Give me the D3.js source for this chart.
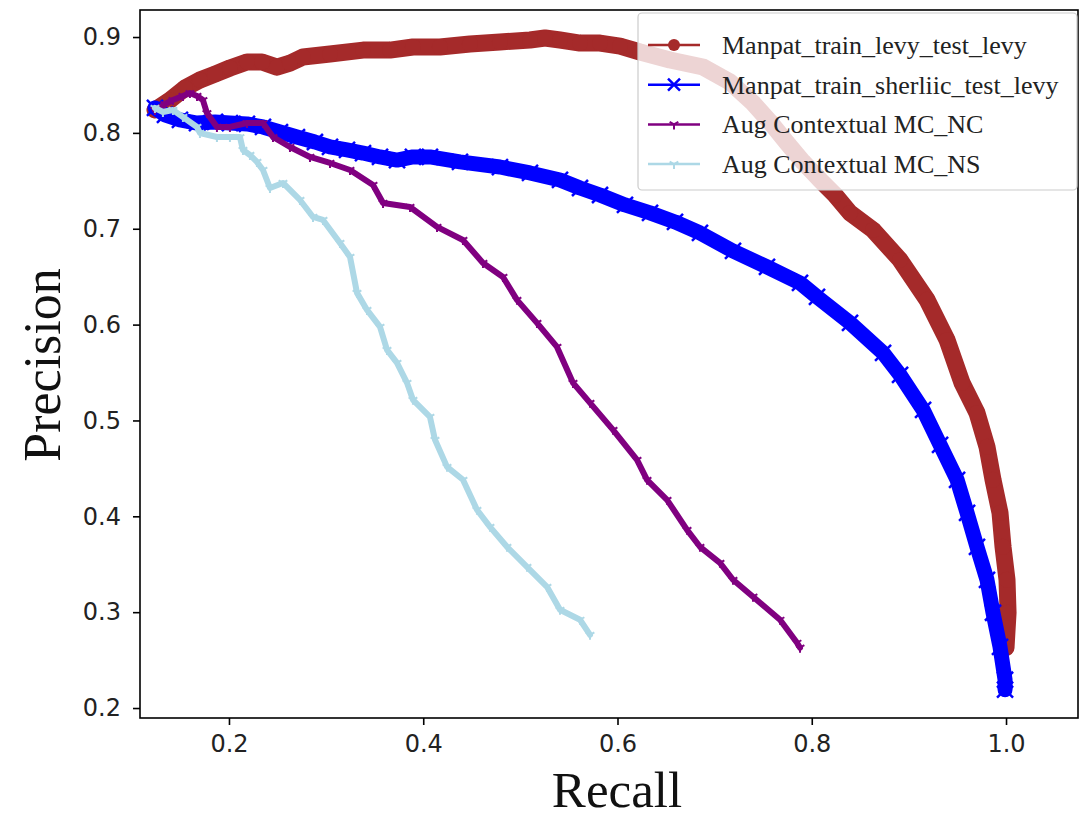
<!DOCTYPE html>
<html><head><meta charset="utf-8">
<script src="https://cdn.jsdelivr.net/npm/d3@7"></script>
<style>body{margin:0;background:#fff}</style>
</head><body>
<svg id="c" width="1081" height="819"></svg>
<script>
const seriesNames = ["Manpat_train_levy_test_levy","Manpat_train_sherliic_test_levy","Aug Contextual MC_NC","Aug Contextual MC_NS"];
const xTicks = [0.2,0.4,0.6,0.8,1.0];
const yTicks = [0.2,0.3,0.4,0.5,0.6,0.7,0.8,0.9];

const levyRecall = [0.1238,0.1393,0.1547,0.1701,0.1856,0.2010,0.2185,0.2340,0.2494,0.2628,0.2762,0.3040,0.3380,0.3658,0.3894,0.4172,0.4481,0.4790,0.5099,0.5254,0.5408,0.5614,0.5820,0.6026,0.6232,0.6540,0.6880,0.7158,0.7395,0.7570,0.7745,0.7910,0.8085,0.8240,0.8394,0.8631,0.8909,0.9187,0.9393,0.9547,0.9701,0.9804,0.9866,0.9938,0.9969,1.0010,1.0021,1.0000];
const levyPrec   = [0.8239,0.8343,0.8468,0.8552,0.8614,0.8677,0.8740,0.8739,0.8686,0.8728,0.8791,0.8823,0.8864,0.8864,0.8896,0.8896,0.8927,0.8948,0.8969,0.8990,0.8969,0.8937,0.8937,0.8906,0.8844,0.8760,0.8687,0.8531,0.8312,0.8114,0.7895,0.7697,0.7509,0.7352,0.7165,0.6987,0.6675,0.6258,0.5840,0.5392,0.5079,0.4725,0.4381,0.4036,0.3682,0.3338,0.2994,0.2629];

const sherRecall = [0.1238,0.1341,0.1495,0.1671,0.1856,0.2010,0.2185,0.2350,0.2525,0.2700,0.2885,0.3040,0.3215,0.3380,0.3555,0.3730,0.3894,0.4069,0.4378,0.4790,0.5099,0.5408,0.5614,0.5820,0.6077,0.6335,0.6592,0.6849,0.7189,0.7539,0.7879,0.8054,0.8394,0.8734,0.8909,0.9146,0.9321,0.9496,0.9599,0.9701,0.9804,0.9866,0.9938,0.9990,0.9990];
const sherPrec   = [0.8260,0.8187,0.8135,0.8103,0.8114,0.8103,0.8093,0.8062,0.8009,0.7957,0.7905,0.7853,0.7822,0.7790,0.7749,0.7717,0.7749,0.7749,0.7697,0.7644,0.7582,0.7509,0.7425,0.7352,0.7248,0.7165,0.7071,0.6956,0.6768,0.6602,0.6435,0.6289,0.6018,0.5705,0.5475,0.5111,0.4746,0.4381,0.4036,0.3682,0.3338,0.2994,0.2639,0.2295,0.2191];

const ncRecall = [0.1238,0.1341,0.1423,0.1526,0.1598,0.1671,0.1732,0.1773,0.1876,0.2010,0.2185,0.2350,0.2453,0.2628,0.2834,0.3040,0.3246,0.3483,0.3586,0.3864,0.4142,0.4409,0.4615,0.4821,0.4965,0.5171,0.5377,0.5542,0.5717,0.5954,0.6201,0.6304,0.6510,0.6716,0.6849,0.7055,0.7189,0.7395,0.7673,0.7848,0.7879];
const ncPrec   = [0.8239,0.8301,0.8343,0.8385,0.8416,0.8385,0.8343,0.8207,0.8062,0.8062,0.8103,0.8103,0.7957,0.7853,0.7749,0.7686,0.7613,0.7457,0.7269,0.7227,0.7019,0.6883,0.6643,0.6497,0.6258,0.6018,0.5767,0.5392,0.5184,0.4902,0.4589,0.4381,0.4172,0.3859,0.3682,0.3515,0.3338,0.3161,0.2921,0.2681,0.2629];

const nsRecall = [0.1238,0.1320,0.1423,0.1526,0.1671,0.1701,0.1876,0.2010,0.2113,0.2144,0.2216,0.2288,0.2350,0.2422,0.2556,0.2731,0.2865,0.2968,0.3143,0.3246,0.3318,0.3421,0.3555,0.3627,0.3730,0.3833,0.3894,0.4069,0.4121,0.4245,0.4409,0.4553,0.4687,0.4862,0.5068,0.5274,0.5408,0.5614,0.5717];
const nsPrec   = [0.8260,0.8218,0.8239,0.8166,0.8062,0.7999,0.7957,0.7957,0.7957,0.7822,0.7770,0.7697,0.7613,0.7425,0.7478,0.7300,0.7123,0.7092,0.6852,0.6706,0.6331,0.6153,0.5976,0.5736,0.5601,0.5392,0.5215,0.5038,0.4798,0.4516,0.4381,0.4068,0.3890,0.3682,0.3473,0.3265,0.3025,0.2921,0.2764];

const colors = ["#a52a2a","#0000ff","#800080","#add8e6"];
const bandW = [17,15,6,6];
const markers = ["circle","x","tri","tri"];

const svg = d3.select("#c");
const L=140,R=1078,T=10,B=718;
const x = d3.scaleLinear().domain([0.1084,1.0741]).range([L,R]);
const y = d3.scaleLinear().domain([0.1896,0.9282]).range([B,T]);

const series = [
  levyRecall.map((r,i)=>[r,levyPrec[i]]),
  sherRecall.map((r,i)=>[r,sherPrec[i]]),
  ncRecall.map((r,i)=>[r,ncPrec[i]]),
  nsRecall.map((r,i)=>[r,nsPrec[i]])
];

function drawMarker(g, type, cx, cy, color, s){
  if(type==="circle"){
    g.append("circle").attr("cx",cx).attr("cy",cy).attr("r",s).attr("fill",color);
  } else if(type==="x"){
    g.append("path").attr("d",`M${cx-s},${cy-s}L${cx+s},${cy+s}M${cx-s},${cy+s}L${cx+s},${cy-s}`)
      .attr("stroke",color).attr("stroke-width",2.5).attr("fill","none");
  } else {
    g.append("path").attr("d",`M${cx},${cy}L${cx},${cy+s}M${cx},${cy}L${cx-s*0.87},${cy-s*0.5}M${cx},${cy}L${cx+s*0.87},${cy-s*0.5}`)
      .attr("stroke",color).attr("stroke-width",2).attr("fill","none");
  }
}

const line = d3.line().x(d=>x(d[0])).y(d=>y(d[1])).curve(d3.curveLinear);
const plot = svg.append("g");
series.forEach((s,i)=>{
  plot.append("path").attr("d",line(s)).attr("fill","none").attr("stroke",colors[i])
    .attr("stroke-width",bandW[i]).attr("stroke-linejoin","round").attr("stroke-linecap","round");
  const mg = plot.append("g");
  const ms = [8,8,5,5][i];
  s.forEach(d=>drawMarker(mg, markers[i], x(d[0]), y(d[1]), colors[i], ms));
});

// spines
svg.append("rect").attr("x",L).attr("y",T).attr("width",R-L).attr("height",B-T)
  .attr("fill","none").attr("stroke","#000").attr("stroke-width",1.6);

// axes
const xa = svg.append("g").attr("transform",`translate(0,${B})`)
  .call(d3.axisBottom(x).tickValues(xTicks).tickFormat(d3.format(".1f")).tickSize(7).tickPadding(10));
const ya = svg.append("g").attr("transform",`translate(${L},0)`)
  .call(d3.axisLeft(y).tickValues(yTicks).tickFormat(d3.format(".1f")).tickSize(7).tickPadding(12));
[xa,ya].forEach(a=>{
  a.select(".domain").remove();
  a.selectAll(".tick line").attr("stroke","#000").attr("stroke-width",1.6);
  a.selectAll(".tick text").attr("font-family","DejaVu Sans").attr("font-size",24).attr("fill","#222");
});

svg.append("text").attr("x",617).attr("y",807).attr("text-anchor","middle")
  .attr("font-family","Liberation Serif").attr("font-size",51).attr("fill","#111").text("Recall");
svg.append("text").attr("transform","translate(60,365) rotate(-90)").attr("text-anchor","middle")
  .attr("font-family","Liberation Serif").attr("font-size",52).attr("fill","#111").text("Precision");

// legend
const lg = svg.append("g");
lg.append("rect").attr("x",638).attr("y",13).attr("width",439).attr("height",177).attr("rx",4)
  .attr("fill","#fff").attr("fill-opacity",0.8).attr("stroke","#ccc").attr("stroke-width",1.2);
seriesNames.forEach((n,i)=>{
  const cy = 45 + i*39.7;
  lg.append("line").attr("x1",648).attr("x2",700).attr("y1",cy).attr("y2",cy)
    .attr("stroke",colors[i]).attr("stroke-width",2.5);
  drawMarker(lg, markers[i], 674, cy, colors[i], [6,6,5,5][i]);
  lg.append("text").attr("x",722).attr("y",cy+9).attr("font-family","Liberation Serif")
    .attr("font-size",26).attr("fill","#222").text(n);
});
</script>
</body></html>
